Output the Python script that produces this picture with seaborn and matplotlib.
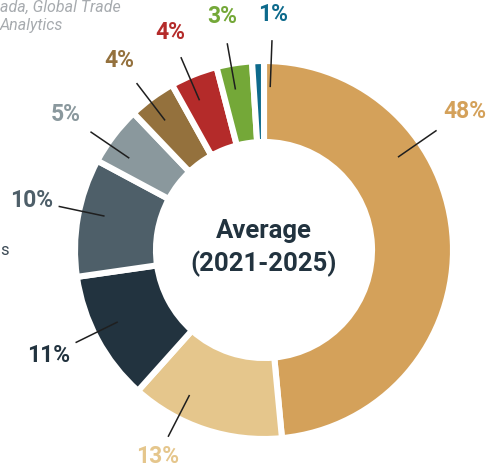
import matplotlib
matplotlib.use("Agg")
import matplotlib.pyplot as plt
import seaborn as sns
import numpy as np

# ---- data ----
shares = [48, 13, 11, 10, 5, 4, 4, 3, 1]
labels = ["48%", "13%", "11%", "10%", "5%", "4%", "4%", "3%", "1%"]
colors = ["#D4A15A", "#E5C68C", "#22333F", "#4E5F69", "#8A989D",
          "#94713D", "#B42B2A", "#74A838", "#0D6A8C"]
center_title = ["Average", "(2021-2025)"]

sns.set_theme(style="white")
plt.rcParams['font.family'] = ['Roboto', 'DejaVu Sans']
pal = sns.color_palette(colors)

W, H = 503, 469
fig = plt.figure(figsize=(W / 100, H / 100), dpi=100)
ax = fig.add_axes([0, 0, 1, 1])

cx, cy = 264, H - 250
R = 189
ring = 81

wedges, _ = ax.pie(shares, colors=pal, startangle=90, counterclock=False,
                   radius=R, center=(cx, cy),
                   wedgeprops=dict(width=ring, edgecolor="white", linewidth=4.4))
ax.set_xlim(0, W)
ax.set_ylim(0, H)
ax.set_aspect('equal')
ax.axis('off')

# label angle / radius adjustments (style)
ang_off = [32, -9, -2, -2, 3, 1, 1.5, 1, -4]
lab_r = [244, 232, 240, 238, 240, 238, 237, 237, 236]
for w, lab, col, off, lr in zip(wedges, labels, colors, ang_off, lab_r):
    mid = (w.theta1 + w.theta2) / 2 + off
    t = np.deg2rad(mid)
    ux, uy = np.cos(t), np.sin(t)
    ax.plot([cx + 163 * ux, cx + 210 * ux], [cy + 163 * uy, cy + 210 * uy],
            color="#1f1f1f", lw=1.1, solid_capstyle='butt')
    ax.text(cx + lr * ux, cy + lr * uy, lab, color=col, fontsize=16.5,
            fontweight='bold', style='normal', ha='center', va='center')

ax.text(cx, H - 231, center_title[0], color="#22333F", fontsize=18.5,
        fontweight='bold', ha='center', va='center')
ax.text(cx, H - 264, center_title[1], color="#22333F", fontsize=18.5,
        fontweight='bold', ha='center', va='center')

# visible fragments of surrounding text
ax.text(0, H - 12, "ada, Global Trade", color="#A7ABAF",
        fontsize=11.5, style='italic', ha='left', va='baseline')
ax.text(0, H - 30, "Analytics", color="#A7ABAF",
        fontsize=11.5, style='italic', ha='left', va='baseline')
ax.text(0, H - 255, "s", color="#3C4A55", fontsize=12,
        ha='left', va='baseline')

fig.savefig("out.png", dpi=100)
